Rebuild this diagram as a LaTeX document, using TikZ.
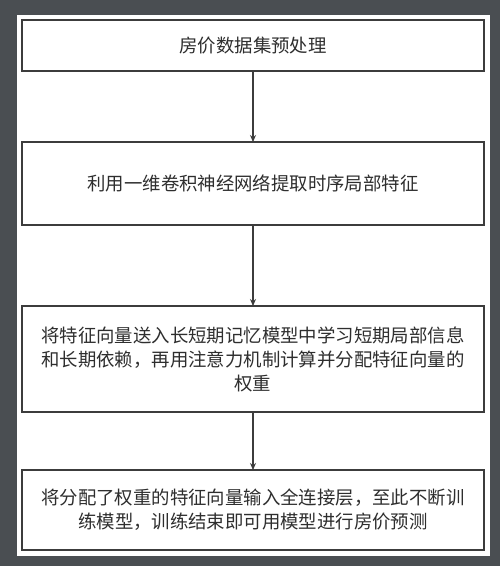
\documentclass[tikz,border=0pt]{standalone}
\usepackage{fontspec}
\setmainfont{Noto Sans CJK SC}
\usetikzlibrary{arrows.meta}
\definecolor{framegray}{HTML}{4A4E52}
\definecolor{linegray}{HTML}{3C3C3C}
\definecolor{textgray}{HTML}{2E2E2E}
\tikzset{
  stepbox/.style={draw=linegray,line width=1.2pt,minimum width=462pt,inner sep=0pt,outer sep=0pt,
    align=center,text=textgray,font=\fontsize{18.4}{24}\selectfont},
  flow/.style={draw=linegray,line width=1.2pt,-{Stealth[length=7pt,width=6pt]}}
}
\begin{document}
\begin{tikzpicture}[x=1pt,y=-1pt]
\fill[framegray] (0,0) rectangle (500,566);
\fill[white] (17,15) rectangle (489.5,556);
\node[stepbox,minimum height=51pt] (prep) at (253,45.5) {房价数据集预处理};
\node[stepbox,minimum height=83pt] (cnn) at (253,183.5) {利用一维卷积神经网络提取时序局部特征};
\node[stepbox,minimum height=106pt] (lstm) at (253,359) {将特征向量送入长短期记忆模型中学习短期局部信息\\和长期依赖，再用注意力机制计算并分配特征向量的\\权重};
\node[stepbox,minimum height=80pt] (fc) at (253,510) {将分配了权重的特征向量输入全连接层，至此不断训\\练模型，训练结束即可用模型进行房价预测};
\draw[flow] (prep) -- (cnn);
\draw[flow] (cnn) -- (lstm);
\draw[flow] (lstm) -- (fc);
\end{tikzpicture}
\end{document}
